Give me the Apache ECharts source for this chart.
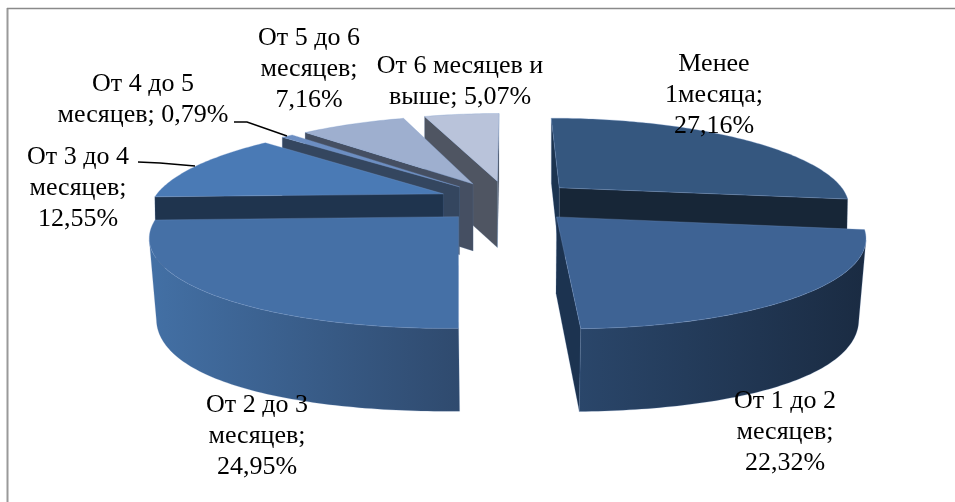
<!DOCTYPE html>
<html><head><meta charset="utf-8">
<style>html,body{margin:0;padding:0;background:#fff}#c{width:955px;height:502px}</style>
<script src="https://cdn.jsdelivr.net/npm/echarts@6/dist/echarts.min.js"></script>
</head><body><div id="c"></div>
<script>
const categories = ['Менее\n1месяца','От 1 до 2\nмесяцев','От 2 до 3\nмесяцев','От 3 до 4\nмесяцев','От 4 до 5\nмесяцев','От 5 до 6\nмесяцев','От 6 месяцев и\nвыше'];
const values = [27.16,22.32,24.95,12.55,0.79,7.16,5.07];

// appearance / layout
const topColors  = ['#35577F','#3E6394','#4570A6','#4A7AB5','#6C8EC2','#9EAFCF','#B9C3DA'];
const endCutColors   = ['#172637','#1C3350','#23405F','#34465F','#34465F','#454F62','#4F5562'];
const startCutColors = ['#1C3450','#1C3350','#23405F','#1F344E','#34465F','#454F62','#4F5562'];
const wallStops  = [['#1f3550','#16263a'],['#2A466A','#1A2B42'],['#4370A5','#2F4A6E'],['#1F344E','#1F344E'],['#34465F','#34465F'],['#454F62','#454F62'],['#4F5562','#4F5562']];
const drawOrder  = [6,5,4,3,2,0,1];
const labelSeps  = [';\n',';\n',';\n',';\n','; ',';\n','; '];
const labelPos   = [[714,64],[785,401],[257,405],[78,157],[143,84],[309,38],[460,66]];
const P = {cx:508, cy:201, A:291, B:86, kx:0.19, k:0.175, e:0.241};
const LH = 31;

function project(X,Y){return [P.cx+P.A*X/(1-P.kx*Y),P.cy+P.B*Y/(1-P.k*Y)];}
function lower(p){
  const y=Math.max(p[1],178);
  const d=65+0.263*(y-178)-0.00154*(y-178)*(y-235);
  const f=1-0.02*Math.min(1,Math.max(0,(p[1]-190)/40));
  return [P.cx+(p[0]-P.cx)*f,p[1]+d];
}
const total = values.reduce((a,b)=>a+b,0);
const rad = d=>d*Math.PI/180;

function renderItem(params, api){
  const i = params.dataIndex;
  let start = 0;
  for(let j=0;j<i;j++) start += values[j]/total*360;
  const end = start + api.value(0)/total*360;
  const mid = (start+end)/2;
  const ox = P.e*Math.sin(rad(mid)), oy = -P.e*Math.cos(rad(mid));
  const pt = a=>project(ox+Math.sin(rad(a)), oy-Math.cos(rad(a)));
  const apex = project(ox,oy);
  const rim = [];
  const n = Math.max(2,Math.ceil((end-start)));
  for(let t=0;t<=n;t++) rim.push(pt(start+(end-start)*t/n));
  const z = drawOrder.indexOf(i)*10;
  const kids = [];
  const poly=(pts,fill,z2,stroke)=>({type:'polygon',shape:{points:pts},z2:z2,
    style:{fill:fill,stroke:stroke||'rgba(90,125,175,0.35)',lineWidth:0.6}});
  // cut faces: only those turned towards the viewer
  const a0=rim[0],a1=rim[rim.length-1];
  const faces=a=>-Math.cos(rad(a))>-0.01;
  if(faces(start-90)) kids.push(poly([apex,a0,lower(a0),lower(apex)],startCutColors[i],z+1));
  if(faces(end+90))   kids.push(poly([apex,a1,lower(a1),lower(apex)],endCutColors[i],z+2));
  // outer wall: only between the silhouette extremes on the near side
  const ws=Math.max(start,104), we=Math.min(end,256);
  if(we>ws){
    const m=Math.max(2,Math.ceil(we-ws)),up=[];
    for(let t=0;t<=m;t++) up.push(pt(ws+(we-ws)*t/m));
    const pts=up.concat(up.slice().reverse().map(lower));
    kids.push(poly(pts,{type:'linear',x:i==2?1:0,y:0,x2:i==2?0:1,y2:0,
      colorStops:[{offset:0,color:wallStops[i][i==2?1:0]},{offset:1,color:wallStops[i][i==2?0:1]}]},z+3));
  }
  // top
  kids.push(poly([apex].concat(rim),topColors[i],z+4,'rgba(120,155,205,0.5)'));
  return {type:'group',children:kids};
}

const texts = categories.map((c,i)=>{
  const s = c+labelSeps[i]+values[i].toFixed(2).replace('.',',')+'%';
  return {type:'text',x:labelPos[i][0],y:labelPos[i][1]-LH/2,z:100,
    style:{text:s,font:'26px "Liberation Serif"',fill:'#000',align:'center',verticalAlign:'top',lineHeight:LH}};
});

const chart = echarts.init(document.getElementById('c'),null,{renderer:'canvas'});
chart.setOption({
  animation:false,
  backgroundColor:'#fff',
  graphic:{elements:[
    {type:'line',z:1,shape:{x1:7.5,y1:8,x2:7.5,y2:502},style:{stroke:'#9a9a9a',lineWidth:2}},
    {type:'line',z:1,shape:{x1:7,y1:8.5,x2:955,y2:8.5},style:{stroke:'#8a8a8a',lineWidth:1.4}},
    {type:'polyline',z:101,shape:{points:[[138,162],[160,163],[195,166]]},style:{stroke:'#000',fill:null,lineWidth:1.4}},
    {type:'polyline',z:101,shape:{points:[[234,122],[247,122],[287,136]]},style:{stroke:'#000',fill:null,lineWidth:1.4}}
  ].concat(texts)},
  series:[{type:'custom',coordinateSystem:'none',renderItem:renderItem,data:values.map(v=>[v]),silent:true}]
});
</script></body></html>
